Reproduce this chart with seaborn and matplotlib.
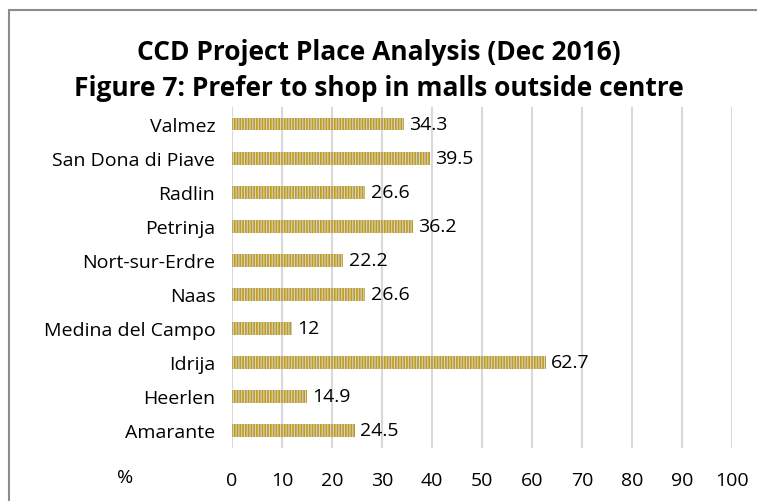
import matplotlib
matplotlib.use("Agg")
import matplotlib.pyplot as plt
import seaborn as sns
import pandas as pd
from matplotlib.patches import Rectangle

# data
towns = ["Valmez", "San Dona di Piave", "Radlin", "Petrinja", "Nort-sur-Erdre",
         "Naas", "Medina del Campo", "Idrija", "Heerlen", "Amarante"]
pct = [34.3, 39.5, 26.6, 36.2, 22.2, 26.6, 12, 62.7, 14.9, 24.5]
x_ticks = [0, 10, 20, 30, 40, 50, 60, 70, 80, 90, 100]

df = pd.DataFrame({"Town": towns, "Pct": pct})

sns.set_style("white")
plt.rcParams['font.family'] = ['Open Sans', 'DejaVu Sans']
plt.rcParams['hatch.linewidth'] = 1.2
plt.rcParams['text.color'] = 'black'
plt.rcParams['xtick.color'] = 'black'
plt.rcParams['ytick.color'] = 'black'

W, H = 757, 502
fig = plt.figure(figsize=(W / 100, H / 100), dpi=100)
# axes box in pixels: x 232..732, y 108..448.5
ax = fig.add_axes([232 / W, 1 - 448.5 / H, 500 / W, 340.5 / H])

sns.barplot(data=df, x="Pct", y="Town", orient="h", width=0.38,
            color="#cdd6e0", ax=ax)
for p in ax.patches:
    p.set_hatch("|" * 6)
    p.set_edgecolor("#c49b14")
    p.set_linewidth(0)

labels = [f"{v:g}" for v in pct]
ax.bar_label(ax.containers[0], labels=labels, padding=4, fontsize=14, color="black")

ax.set_xlim(0, 100)
ax.set_xticks(x_ticks)
ax.xaxis.grid(True, color="#d9d9d9", lw=1.5)
ax.set_axisbelow(True)
for s in ax.spines.values():
    s.set_visible(False)
ax.tick_params(axis="x", length=0, pad=17, labelsize=14, labelcolor="black")
ax.tick_params(axis="y", length=0, pad=12, labelsize=14, labelcolor="black")
ax.set_xlabel("")
ax.set_ylabel("")

fig.text(125 / W, 1 - 478 / H, "%", ha="center", va="center", fontsize=14)
fig.text(0.5, 1 - 53 / H, "CCD Project Place Analysis (Dec 2016)",
         ha="center", va="center", fontsize=19, fontweight="bold")
fig.text(0.5, 1 - 88 / H, "Figure 7: Prefer to shop in malls outside centre",
         ha="center", va="center", fontsize=19, fontweight="bold")

# chart frame, only left and top edges show in the crop
fig.patches.append(Rectangle((9 / W, -0.1), 1.2, 1 - 11 / H + 0.1,
                             transform=fig.transFigure, fill=False,
                             edgecolor="#8c8c8c", lw=1.5))

fig.savefig("out.png", dpi=100)
